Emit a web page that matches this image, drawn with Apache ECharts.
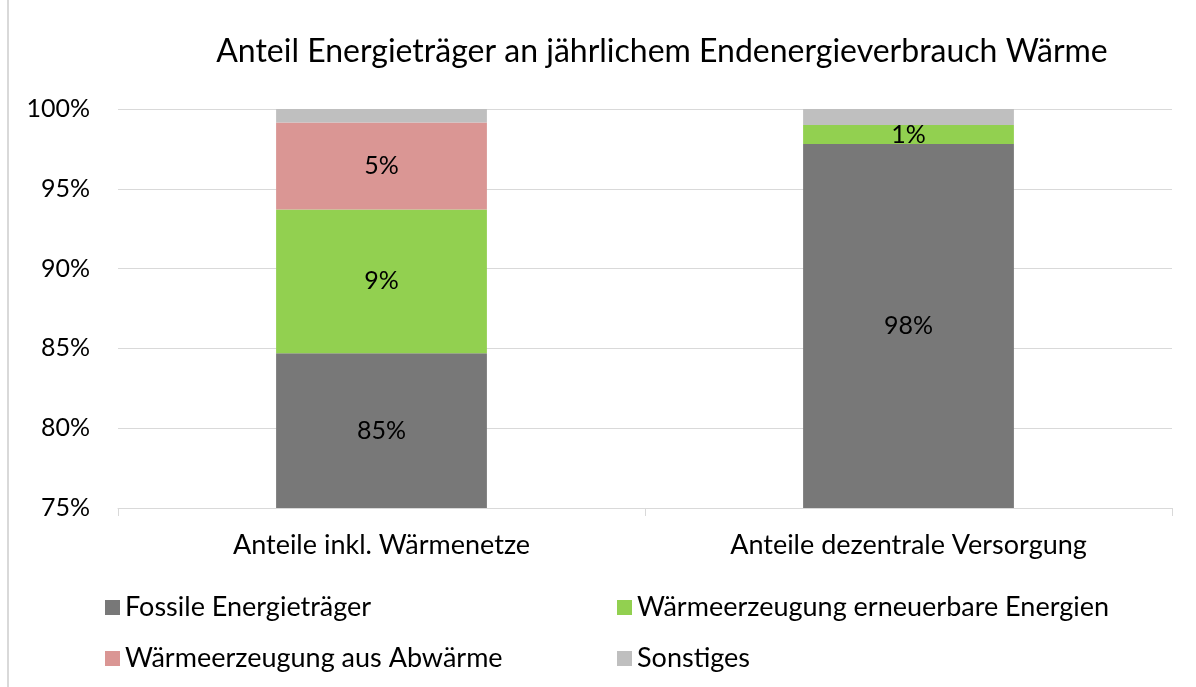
<!DOCTYPE html>
<html>
<head>
<meta charset="utf-8">
<script src="https://cdn.jsdelivr.net/npm/echarts@6/dist/echarts.min.js"></script>
<style>
  html, body { margin: 0; padding: 0; background: #fff; }
  #chart { width: 1196px; height: 687px; }
</style>
</head>
<body>
<div id="chart"></div>
<script>
// Daten (Anteile in %)
const categories = ['Anteile inkl. Wärmenetze', 'Anteile dezentrale Versorgung']
const fossil = [84.7, 97.8]
const erneuerbar = [9.0, 1.2]
const abwaerme = [5.45, 0]
const sonstiges = [0.85, 1.0]

const chart = echarts.init(document.getElementById('chart'))
const font = 'Lato, "Open Sans", sans-serif'

const pctLabel = {
  show: true,
  position: 'inside',
  color: '#000',
  fontSize: 25,
  fontFamily: font,
  formatter: p => p.value > 0 ? Math.round(p.value) + '%' : ''
}

const legendText = { fontSize: 27, color: '#000', fontFamily: font }

const option = {
  animation: false,
  title: {
    text: 'Anteil Energieträger an jährlichem Endenergieverbrauch Wärme',
    left: 657,
    top: 31,
    textAlign: 'center',
    textStyle: { color: '#000', fontSize: 32, fontWeight: 'normal', fontFamily: font }
  },
  legend: [
    {
      data: ['Fossile Energieträger', 'Wärmeerzeugung aus Abwärme'],
      orient: 'vertical',
      left: 100,
      top: 589,
      itemGap: 24,
      itemWidth: 15,
      itemHeight: 15,
      icon: 'rect',
      textStyle: legendText
    },
    {
      data: ['Wärmeerzeugung erneuerbare Energien', 'Sonstiges'],
      orient: 'vertical',
      left: 612,
      top: 589,
      itemGap: 24,
      itemWidth: 15,
      itemHeight: 15,
      icon: 'rect',
      textStyle: legendText
    }
  ],
  grid: { left: 118, right: 24, top: 109, bottom: 179 },
  xAxis: {
    type: 'category',
    data: categories,
    axisLine: { lineStyle: { color: '#d9d9d9' } },
    axisTick: { show: true, length: 8, lineStyle: { color: '#d9d9d9' } },
    axisLabel: { color: '#000', fontSize: 27, fontFamily: font, margin: 24 }
  },
  yAxis: {
    type: 'value',
    min: 75,
    max: 100,
    interval: 5,
    axisLine: { show: false },
    axisTick: { show: false },
    axisLabel: { color: '#000', fontSize: 25, fontFamily: font, margin: 28, formatter: '{value}%' },
    splitLine: { lineStyle: { color: '#d9d9d9', width: 1 } }
  },
  series: [
    { name: 'Fossile Energieträger', type: 'bar', stack: 'a', barWidth: '40%', data: fossil, itemStyle: { color: '#787878' }, label: pctLabel },
    { name: 'Wärmeerzeugung erneuerbare Energien', type: 'bar', stack: 'a', data: erneuerbar, itemStyle: { color: '#92d050' }, label: pctLabel },
    { name: 'Wärmeerzeugung aus Abwärme', type: 'bar', stack: 'a', data: abwaerme, itemStyle: { color: '#da9694' }, label: pctLabel },
    { name: 'Sonstiges', type: 'bar', stack: 'a', data: sonstiges, itemStyle: { color: '#bfbfbf' } }
  ],
  graphic: [
    { type: 'line', shape: { x1: 8, y1: 0, x2: 8, y2: 687 }, style: { stroke: '#d9d9d9', lineWidth: 2 } }
  ]
}

chart.setOption(option)
</script>
</body>
</html>
